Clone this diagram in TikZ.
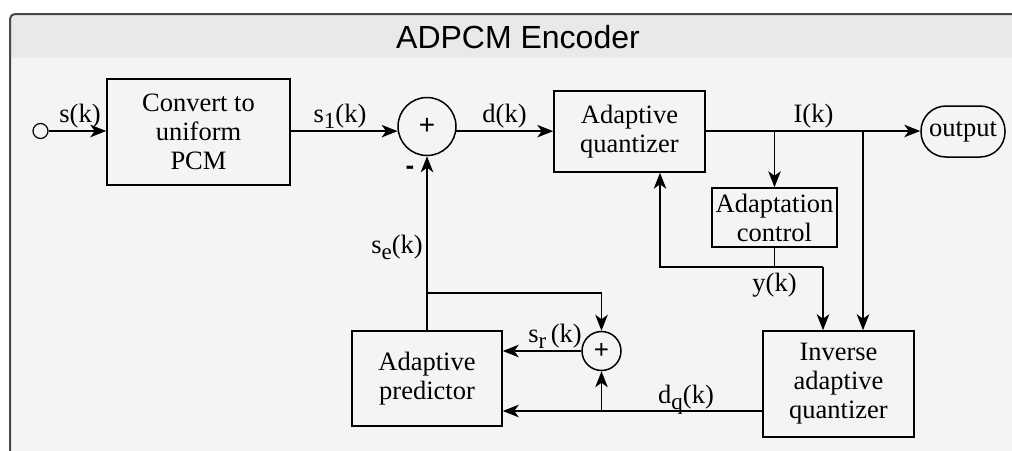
\documentclass[tikz,border=0pt]{standalone}
\usepackage{fontspec}
\setmainfont{Liberation Serif}
\newfontfamily\titlefont{Liberation Sans}
\usetikzlibrary{arrows.meta,calc}
\definecolor{band}{HTML}{E9E9E9}
\definecolor{body}{HTML}{F4F4F4}
\definecolor{frame}{HTML}{484848}
\newcommand\lsub[1]{\raisebox{-6pt}{\fontsize{23}{23}\selectfont #1}}
\begin{document}
\begin{tikzpicture}[x=1pt,y=-1pt,
  line width=1.5pt,
  >={Stealth[length=16pt,width=12.5pt,inset=4.5pt]},
  every node/.style={font=\fontsize{26.5}{29}\selectfont},
  blk/.style={draw,rectangle,inner sep=2pt,align=center},
  sumc/.style={draw,circle,inner sep=0pt,font=\titlefont\fontsize{28}{28}\selectfont},
  lbl/.style={anchor=base,inner sep=0pt}]
\useasboundingbox (0,0) rectangle (1012,450);
\begin{scope}
\clip (0,0) rectangle (1012,450);
\fill[body,rounded corners=5pt] (10,14) rectangle (1040,480);
\fill[band,rounded corners=5pt] (10,14) rectangle (1040,70);
\fill[body] (10,58) rectangle (1040,70);
\draw[frame,line width=2pt,rounded corners=5pt] (10,480) -- (10,14) -- (1040,14);
\end{scope}
\node[inner sep=0pt,font=\titlefont\fontsize{32}{32}\selectfont] (title) at (518,37) {ADPCM Encoder};
% nodes
\node[draw,circle,minimum size=15pt,inner sep=0pt,line width=1.2pt] (in) at (40.5,131) {};
\node[blk,minimum width=183pt,minimum height=106pt] (conv) at (198.5,132) {Convert to\\uniform\\PCM};
\node[sumc,minimum size=58pt] (s1) at (427,126.5) {+};
\node[blk,minimum width=151pt,minimum height=81pt] (aq) at (629.5,131.5) {Adaptive\\quantizer};
\node[draw,rounded corners=25pt,minimum width=84pt,minimum height=51pt,inner sep=1pt] (out) at (963,131.5) {output};
\node[blk,minimum width=125pt,minimum height=59pt] (ac) at (774.5,217.5) {Adaptation\\control};
\node[blk,minimum width=151pt,minimum height=106pt] (iaq) at (838.5,384) {Inverse\\adaptive\\quantizer};
\node[blk,minimum width=150pt,minimum height=95pt] (ap) at (427,378.5) {Adaptive\\predictor};
\node[sumc,minimum size=39pt,font=\titlefont\fontsize{26}{26}\selectfont] (s2) at (601.5,351) {+};
% junction coordinates
\coordinate (j1) at (774.5,131);
\coordinate (j2) at (863,131);
\coordinate (yl) at (660,267);
\coordinate (yr) at (823,267);
\coordinate (dqj) at (601.5,411);
\coordinate (sej) at (427,293);
% connectors
\draw[->] (in.east) -- (in.east -| conv.west);
\draw[->] (conv.east |- s1.189) -- (s1.189);
\draw[->] (s1.-9) -- (s1.-9 -| aq.west);
\draw[->] (aq.east |- j1) -- (j1 -| out.west);
\draw[->] (j1) -- (ac.north);
\draw[->] (j2) -- (j2 |- iaq.north);
\draw (ac.south) -- (ac.south |- yl);
\draw[->] (yr) -- (yl) -- (yl |- aq.south);
\draw[->] (yr) -- (yr |- iaq.north);
\draw (iaq.west |- dqj) -- (dqj);
\draw[->] (dqj) -- (dqj -| ap.east);
\draw[->] (dqj) -- (s2.south);
\draw[->] (s2.west) -- (s2.west -| ap.east);
\draw[->] (ap.north) -- (s1.south);
\draw[->] (sej) -| (s2.north);
% labels
\node[lbl] (ls) at (80,122) {s(k)};
\node[lbl] (ls1) at (340,122) {s\lsub{1}(k)};
\node[lbl] (ld) at (504.5,122) {d(k)};
\node[lbl] (lI) at (813.5,122) {I(k)};
\node[lbl] (ly) at (774.5,291) {y(k)};
\node[lbl] (lse) at (397,253) {s\lsub{e}(k)};
\node[lbl] (lsr) at (555,342) {s\lsub{r}\,(k)};
\node[lbl] (ldq) at (686,403) {d\lsub{q}(k)};
\node[inner sep=0pt,font=\titlefont\bfseries\fontsize{26}{26}\selectfont] (minus) at (410,170) {-};
\end{tikzpicture}
\end{document}
